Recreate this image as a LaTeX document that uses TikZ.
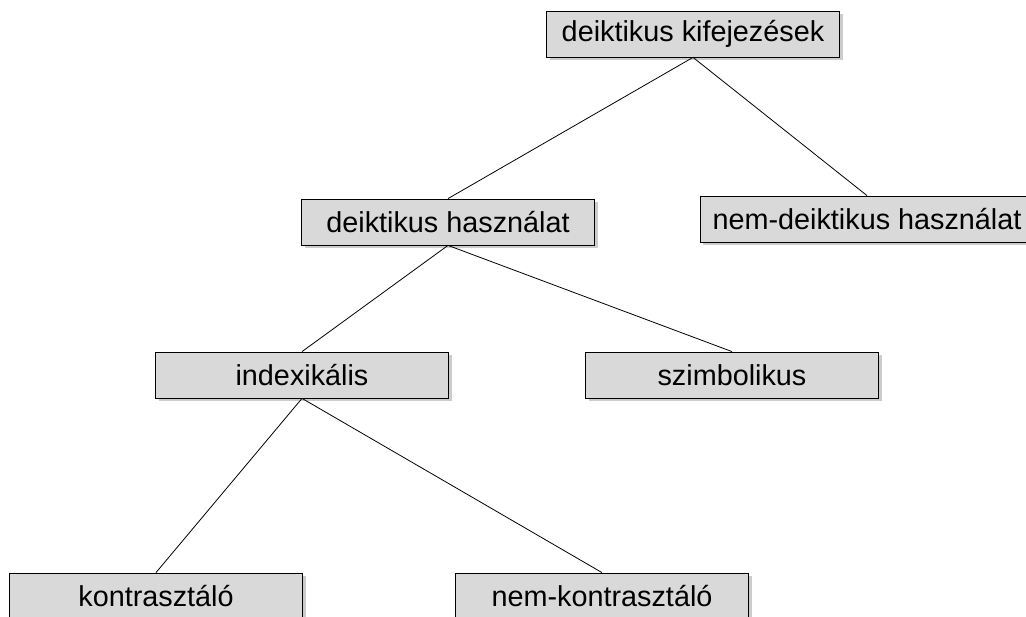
\documentclass[tikz,border=0pt]{standalone}
\usepackage{fontspec}
\setmainfont{Liberation Sans}
\usetikzlibrary{shadows}

\begin{document}
\begin{tikzpicture}[x=1pt, y=-1pt, line width=0.8pt,
  box/.style={draw=black, fill=black!15, minimum width=293pt, minimum height=46pt,
    inner sep=0pt, font=\fontsize{28.8}{30}\selectfont,
    drop shadow={shadow xshift=3pt, shadow yshift=-3pt, fill=black!40}}]
  \useasboundingbox (0,0) rectangle (1026,617);
  % niveles del arbol
  \node[box] (dk) at (693,34) {deiktikus kifejezések};
  \node[box] (dh) at (448,222) {deiktikus használat};
  \node[box, minimum width=334pt] (ndh) at (867,219) {nem-deiktikus használat};
  \node[box] (ix) at (302,375) {indexikális};
  \node[box] (sz) at (732,375) {szimbolikus};
  \node[box] (ko) at (156,596) {kontrasztáló};
  \node[box] (nko) at (602,596) {nem-kontrasztáló};
  % ramas
  \draw (dk.south) -- (dh.north);
  \draw (dk.south) -- (ndh.north);
  \draw (dh.south) -- (ix.north);
  \draw (dh.south) -- (sz.north);
  \draw (ix.south) -- (ko.north);
  \draw (ix.south) -- (nko.north);
\end{tikzpicture}
\end{document}
